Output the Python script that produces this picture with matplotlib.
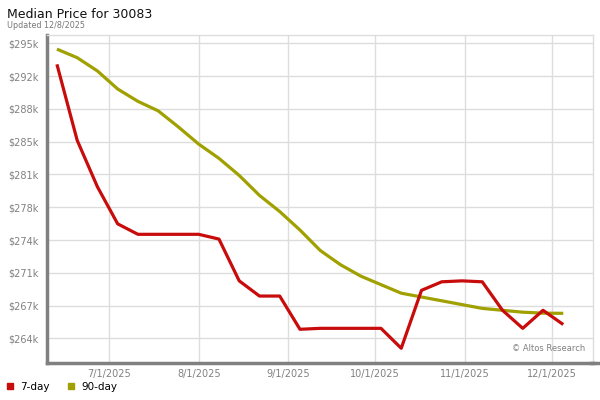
import numpy as np
import matplotlib
matplotlib.use('Agg')
import matplotlib.pyplot as plt
import matplotlib.dates as mdates
from matplotlib.lines import Line2D
import datetime as dt

# weekly data points (fridays)
dates = ['2025-06-13', '2025-06-20', '2025-06-27', '2025-07-04', '2025-07-11',
         '2025-07-18', '2025-07-25', '2025-08-01', '2025-08-08', '2025-08-15',
         '2025-08-22', '2025-08-29', '2025-09-05', '2025-09-12', '2025-09-19',
         '2025-09-26', '2025-10-03', '2025-10-10', '2025-10-17', '2025-10-24',
         '2025-10-31', '2025-11-07', '2025-11-14', '2025-11-21', '2025-11-28',
         '2025-12-05']

price7 = [292800, 284800, 279900, 276000, 274900, 274900, 274900, 274900, 274400,
          270000, 268400, 268400, 264900, 265000, 265000, 265000, 265000, 262900,
          269000, 269900, 270000, 269900, 266900, 265000, 266900, 265400]

price90 = [294400, 293500, 292100, 290200, 288900, 287900, 286200, 284400, 282900,
           281100, 279000, 277300, 275350, 273200, 271700, 270500, 269600, 268700,
           268300, 267900, 267500, 267100, 266900, 266700, 266600, 266580]

yTicks = [295000, 291550, 288100, 284650, 281200, 277750, 274300, 270850, 267400, 263950]
yLabels = ['$295k', '$292k', '$288k', '$285k', '$281k', '$278k', '$274k', '$271k', '$267k', '$264k']

xTicks = ['2025-07-01', '2025-08-01', '2025-09-01', '2025-10-01', '2025-11-01', '2025-12-01']
xLabels = ['7/1/2025', '8/1/2025', '9/1/2025', '10/1/2025', '11/1/2025', '12/1/2025']

RED = '#c80c0c'
OLIVE = '#a0a000'

def toNum(lst):
    return mdates.date2num([dt.datetime.strptime(s, '%Y-%m-%d') for s in lst])

x = toNum(dates)

fig = plt.figure(figsize=(6, 4), dpi=100)
ax = fig.add_axes([0.078, 0.0925, 0.911, 0.821])

ax.plot(x, price90, color=OLIVE, lw=2.3, solid_capstyle='butt', zorder=3)
ax.plot(x, price7, color=RED, lw=2.3, solid_capstyle='butt', zorder=4)

ax.set_ylim(261350, 295930)
ax.set_xlim(mdates.date2num(dt.datetime(2025, 6, 9, 12)), mdates.date2num(dt.datetime(2025, 12, 15, 10)))

ax.set_yticks(yTicks)
ax.set_yticklabels(yLabels)
ax.set_xticks(toNum(xTicks))
ax.set_xticklabels(xLabels)
ax.tick_params(length=0, labelsize=7, labelcolor='#808080')
ax.tick_params(axis='y', pad=6)
ax.tick_params(axis='x', pad=4)

ax.grid(True, color='#dddddd', lw=1)
ax.set_axisbelow(True)

for s in ['top', 'right']:
    ax.spines[s].set_color('#dddddd')
    ax.spines[s].set_linewidth(1)
for s in ['left', 'bottom']:
    ax.spines[s].set_color('#808080')
    ax.spines[s].set_linewidth(2.5)
# bottom rule runs a little past the plot on the right
fig.add_artist(Line2D([0.985, 0.997], [0.0925, 0.0925], color='#808080', lw=2.5))

ax.text(0.985, 0.03, '\u00a9 Altos Research', transform=ax.transAxes, ha='right', va='bottom',
        fontsize=6, color='#808080')

fig.text(7 / 600, 1 - 18.5 / 400, 'Median Price for 30083', fontsize=9, color='#111111',
         ha='left', va='baseline')
fig.text(7 / 600, 1 - 27.5 / 400, 'Updated 12/8/2025', fontsize=5.8, color='#777777',
         ha='left', va='baseline')

handles = [Line2D([], [], ls='none', marker='s', ms=5, color=RED),
           Line2D([], [], ls='none', marker='s', ms=5, color=OLIVE)]
fig.legend(handles, ['7-day', '90-day'], loc='center left', bbox_to_anchor=(0.003, 1 - 387 / 400),
           ncol=2, frameon=False, fontsize=7.5, handlelength=0.8, handletextpad=0.6,
           columnspacing=1.6, borderaxespad=0, borderpad=0.4)

fig.savefig('out.png', dpi=100)
